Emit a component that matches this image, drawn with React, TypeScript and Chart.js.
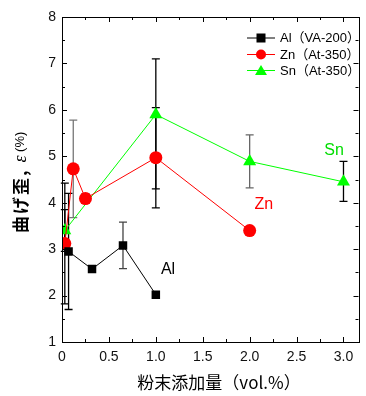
import React, { useEffect, useRef } from 'react';
import { Chart, registerables } from 'chart.js';

Chart.register(...registerables);

// ---- data ----
const alX = [0.07, 0.32, 0.65, 1.0];
const alY = [2.95, 2.57, 3.08, 2.02];
const alErr = [1.25, 0, 0.5, 0];

const znX = [0.03, 0.12, 0.25, 1.0, 2.0];
const znY = [3.12, 4.73, 4.09, 4.97, 3.4];
const znErr = [1.3, 1.05, 0.1, 1.08, 0];

const snX = [0.03, 1.0, 2.0, 3.0];
const snY = [3.4, 5.9, 4.89, 4.45];
const snErrPlus = [0.45, 1.2, 0.57, 0.44];
const snErrMinus = [0.45, 1.6, 0.57, 0.42];

const xTickValues = [0, 0.5, 1.0, 1.5, 2.0, 2.5, 3.0];
const xTickLabels = ['0', '0.5', '1.0', '1.5', '2.0', '2.5', '3.0'];
const yTickValues = [1, 2, 3, 4, 5, 6, 7, 8];

const seriesNames = ['Al（VA-200）', 'Zn（At-350）', 'Sn（At-350）'];
const seriesLabels = ['Al', 'Zn', 'Sn'];
const labelPos = [
  [1.13, 2.55],
  [2.15, 3.96],
  [2.9, 5.12],
];
const xTitle = '粉末添加量（vol.%）';
const yTitleMain = '曲げ歪, ';
const yTitleEps = 'ε';
const yTitleUnit = ' (%)';

const BLACK = '#000000';
const RED = '#ff0000';
const GREEN = '#00ff00';
const GREEN_TEXT = '#00dd00';

const errColors = [
  ['#000', '#000', '#444', '#000'],
  ['#000', '#777', '#000', '#000', '#000'],
  ['#000', '#000', '#666', '#000'],
];

const App = () => {
  const ref = useRef<HTMLCanvasElement | null>(null);

  useEffect(() => {
    document.body.style.margin = '0';
    const canvas = ref.current!;
    const mk = (xs: number[], ys: number[]) => xs.map((x, i) => ({ x, y: ys[i] }));

    const errSets = [
      { xs: alX, ys: alY, plus: alErr, minus: alErr },
      { xs: znX, ys: znY, plus: znErr, minus: znErr },
      { xs: snX, ys: snY, plus: snErrPlus, minus: snErrMinus },
    ];

    const errorBars = {
      id: 'errorBars',
      beforeDatasetsDraw(chart: any) {
        const { ctx, scales } = chart;
        const xs = scales.x, ys = scales.y;
        ctx.save();
        ctx.lineWidth = 1.3;
        errSets.forEach((s, si) => {
          s.xs.forEach((xv, i) => {
            if (!s.plus[i] && !s.minus[i]) return;
            const px = xs.getPixelForValue(xv);
            const top = ys.getPixelForValue(s.ys[i] + s.plus[i]);
            const bot = ys.getPixelForValue(s.ys[i] - s.minus[i]);
            ctx.strokeStyle = errColors[si][i];
            ctx.beginPath();
            ctx.moveTo(px, top);
            ctx.lineTo(px, bot);
            ctx.moveTo(px - 4, top);
            ctx.lineTo(px + 4, top);
            ctx.moveTo(px - 4, bot);
            ctx.lineTo(px + 4, bot);
            ctx.stroke();
          });
        });
        ctx.restore();
      },
    };

    const decor = {
      id: 'decor',
      afterDraw(chart: any) {
        const { ctx, chartArea: a, scales } = chart;
        const xs = scales.x, ys = scales.y;
        ctx.save();
        // frame
        ctx.strokeStyle = '#000';
        ctx.lineWidth = 1;
        ctx.strokeRect(Math.round(a.left) + 0.5, Math.round(a.top) + 0.5, Math.round(a.right - a.left), Math.round(a.bottom - a.top));
        // inner ticks
        ctx.beginPath();
        for (let v = 0; v <= 3.16; v += 0.25) {
          const px = Math.round(xs.getPixelForValue(v)) + 0.5;
          const major = Math.abs(v * 2 - Math.round(v * 2)) < 1e-6;
          const len = major ? 5 : 3;
          ctx.moveTo(px, a.bottom);
          ctx.lineTo(px, a.bottom - len);
          ctx.moveTo(px, a.top);
          ctx.lineTo(px, a.top + len);
        }
        for (let v = 1; v <= 8; v += 0.5) {
          const py = Math.round(ys.getPixelForValue(v)) + 0.5;
          const major = Math.abs(v - Math.round(v)) < 1e-6;
          const len = major ? 5 : 3;
          ctx.moveTo(a.left, py);
          ctx.lineTo(a.left + len, py);
          ctx.moveTo(a.right, py);
          ctx.lineTo(a.right - len, py);
        }
        ctx.stroke();

        // legend
        const colors = [BLACK, RED, GREEN];
        const shapes = ['rect', 'circle', 'triangle'];
        const rowsY = [38, 54.5, 70.5];
        ctx.font = '13px "Liberation Sans", "Noto Sans CJK JP", sans-serif';
        ctx.textBaseline = 'middle';
        ctx.textAlign = 'left';
        rowsY.forEach((ry, i) => {
          ctx.strokeStyle = colors[i];
          ctx.fillStyle = colors[i];
          ctx.lineWidth = 1;
          ctx.beginPath();
          ctx.moveTo(247, ry);
          ctx.lineTo(275, ry);
          ctx.stroke();
          const cx = 261;
          ctx.beginPath();
          if (shapes[i] === 'rect') {
            ctx.fillRect(cx - 4.5, ry - 4.5, 9, 9);
          } else if (shapes[i] === 'circle') {
            ctx.arc(cx, ry, 5, 0, Math.PI * 2);
            ctx.fill();
          } else {
            ctx.moveTo(cx, ry - 5.5);
            ctx.lineTo(cx + 6, ry + 4.5);
            ctx.lineTo(cx - 6, ry + 4.5);
            ctx.closePath();
            ctx.fill();
          }
          ctx.fillStyle = '#000';
          ctx.fillText(seriesNames[i], 280, ry + 0.5);
        });

        // series annotations
        const lblColors = [BLACK, RED, GREEN_TEXT];
        ctx.font = '16px "Liberation Sans", sans-serif';
        ctx.textAlign = 'center';
        labelPos.forEach((p, i) => {
          ctx.fillStyle = lblColors[i];
          ctx.fillText(seriesLabels[i], xs.getPixelForValue(p[0]), ys.getPixelForValue(p[1]));
        });

        // x title
        ctx.fillStyle = '#000';
        ctx.font = '17px "Noto Sans CJK JP", sans-serif';
        ctx.textAlign = 'center';
        ctx.fillText(xTitle, 219, 383);

        // y title
        ctx.save();
        ctx.translate(21, 233);
        ctx.rotate(-Math.PI / 2);
        ctx.textAlign = 'left';
        ctx.font = 'bold 17px "Noto Sans CJK JP", sans-serif';
        (ctx as any).letterSpacing = '2px';
        ctx.fillText(yTitleMain, 0, 0);
        let w = ctx.measureText(yTitleMain).width;
        ctx.font = 'italic 18px "Liberation Serif", serif';
        (ctx as any).letterSpacing = '0px';
        ctx.fillText(yTitleEps, w, 0);
        w += ctx.measureText(yTitleEps).width;
        ctx.font = '13px "Liberation Sans", sans-serif';
        ctx.fillText(yTitleUnit, w, -1);
        ctx.restore();

        ctx.restore();
      },
    };

    const chart = new Chart(canvas, {
      type: 'scatter',
      data: {
        datasets: [
          {
            label: seriesNames[0],
            data: mk(alX, alY),
            showLine: true,
            borderColor: BLACK,
            backgroundColor: BLACK,
            borderWidth: 1,
            pointStyle: 'rect',
            pointRadius: 6,
            pointBorderWidth: 0,
          },
          {
            label: seriesNames[1],
            data: mk(znX, znY),
            showLine: true,
            borderColor: RED,
            backgroundColor: RED,
            borderWidth: 1,
            pointStyle: 'circle',
            pointRadius: 6.5,
            pointBorderWidth: 0,
          },
          {
            label: seriesNames[2],
            data: mk(snX, snY),
            showLine: true,
            borderColor: GREEN,
            backgroundColor: GREEN,
            borderWidth: 1,
            pointStyle: 'triangle',
            pointRadius: 7.5,
            pointBorderWidth: 0,
          },
        ],
      },
      options: {
        responsive: false,
        animation: false,
        layout: { padding: { top: 17, right: 4, left: 0, bottom: 0 } },
        plugins: { legend: { display: false }, tooltip: { enabled: false } },
        scales: {
          x: {
            type: 'linear',
            min: 0,
            max: 3.16,
            grid: { display: false, drawTicks: false },
            border: { display: false },
            afterBuildTicks: (s: any) => {
              s.ticks = xTickValues.map((v) => ({ value: v }));
            },
            afterFit: (s: any) => {
              s.height = 54;
            },
            ticks: {
              padding: 7,
              color: '#111',
              font: { family: '"Liberation Sans", Arial, sans-serif', size: 14 },
              maxRotation: 0,
              autoSkip: false,
              callback: (v: any) => {
                const i = xTickValues.findIndex((t) => Math.abs(t - Number(v)) < 1e-6);
                return i >= 0 ? xTickLabels[i] : '';
              },
            },
          },
          y: {
            type: 'linear',
            min: 1,
            max: 8,
            grid: { display: false, drawTicks: false },
            border: { display: false },
            afterBuildTicks: (s: any) => {
              s.ticks = yTickValues.map((v) => ({ value: v }));
            },
            afterFit: (s: any) => {
              s.width = 62;
            },
            ticks: {
              padding: 6,
              color: '#111',
              font: { family: '"Liberation Sans", Arial, sans-serif', size: 14 },
              autoSkip: false,
            },
          },
        },
      },
      plugins: [errorBars, decor],
    });
    return () => chart.destroy();
  }, []);

  return (
    <div style={{ position: 'fixed', left: 0, top: 0, width: 366, height: 396, background: '#fff' }}>
      <canvas ref={ref} width={366} height={396} style={{ width: 366, height: 396, display: 'block' }} />
    </div>
  );
};

export default App;
